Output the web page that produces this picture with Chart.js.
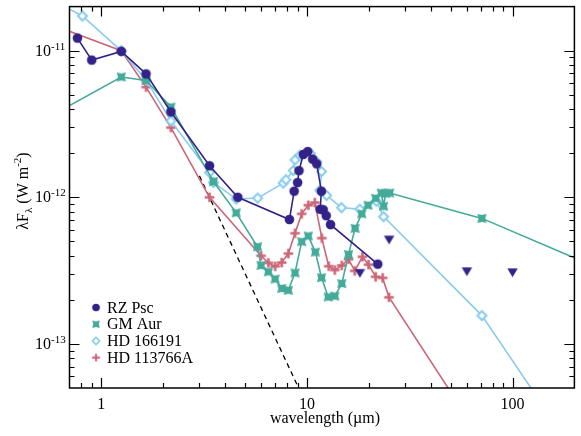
<!DOCTYPE html>
<html>
<head>
<meta charset="utf-8">
<script src="https://cdn.jsdelivr.net/npm/chart.js@4.4.0/dist/chart.umd.min.js"></script>
<style>
  html, body { margin: 0; padding: 0; background: #fff; }
</style>
</head>
<body>
<canvas id="sed" width="581" height="436"></canvas>
<script>
// wavelengths in micron, fluxes (lambda F_lambda) in W m^-2
const rzWave = [0.765, 0.898, 1.25, 1.65, 2.18, 3.36, 4.61, 8.22, 8.67, 9.01, 9.15, 9.6, 10.09, 10.66, 11.16, 11.76, 11.6, 12.0, 12.41, 13.03, 22.1];
const rzFlux = [1.22e-11, 8.63e-12, 9.9e-12, 6.95e-12, 3.82e-12, 1.64e-12, 1.0e-12, 7.05e-13, 1.1e-12, 1.26e-12, 1.52e-12, 1.96e-12, 2.05e-12, 1.82e-12, 1.69e-12, 1.1e-12, 8.29e-13, 8.22e-13, 7.49e-13, 6.51e-13, 3.5e-13];

// RZ Psc upper limits
const rzLimWave = [18.1, 25.1, 60, 100];
const rzLimFlux = [3.03e-13, 5.12e-13, 3.11e-13, 3.06e-13];

const gmWave = [0.55, 1.25, 1.65, 2.18, 3.51, 4.53, 5.75, 5.98, 6.49, 7.0, 7.54, 8.12, 8.75, 9.43, 10.15, 10.99, 11.78, 12.69, 13.67, 14.78, 15.93, 17.15, 18.48, 19.82, 21.6, 23.0, 23.6, 24.15, 25.25, 71, 250];
const gmFlux = [3.5e-12, 6.62e-12, 6.27e-12, 4.13e-12, 1.28e-12, 7.83e-13, 4.6e-13, 3.43e-13, 3.1e-13, 2.77e-13, 2.39e-13, 2.32e-13, 3.05e-13, 4.98e-13, 5.45e-13, 4.23e-13, 2.83e-13, 2.09e-13, 2.12e-13, 2.58e-13, 4.07e-13, 6.14e-13, 7.71e-13, 8.83e-13, 9.85e-13, 1.07e-12, 8.69e-13, 1.064e-12, 1.07e-12, 7.18e-13, 3.38e-13];

const hd166Wave = [0.55, 0.809, 1.25, 1.65, 2.18, 3.36, 3.51, 4.53, 5.76, 7.67, 7.91, 8.58, 8.75, 9.25, 10.4, 11.14, 11.78, 11.56, 12.46, 14.73, 18.07, 21.77, 23.6, 71, 250];
const hd166Flux = [2.3e-11, 1.726e-11, 9.97e-12, 6.32e-12, 3.32e-12, 1.476e-12, 1.264e-12, 9.73e-13, 9.88e-13, 1.25e-12, 1.318e-12, 1.524e-12, 1.8e-12, 1.94e-12, 1.99e-12, 1.75e-12, 1.5e-12, 1.115e-12, 1.03e-12, 8.49e-13, 8.3e-13, 9.4e-13, 7.38e-13, 1.56e-13, 1.15e-14];

const hd113Wave = [0.55, 1.25, 1.65, 2.18, 3.36, 5.98, 6.49, 7.0, 7.54, 8.12, 8.75, 9.43, 10.15, 10.93, 11.82, 12.76, 13.67, 14.78, 15.93, 17.09, 18.62, 19.93, 21.6, 23.35, 25.06, 60];
const hd113Flux = [1.54e-11, 1.0e-11, 5.65e-12, 2.99e-12, 1.0e-12, 3.99e-13, 3.57e-13, 3.38e-13, 3.59e-13, 4.13e-13, 5.69e-13, 7.71e-13, 8.83e-13, 9.21e-13, 5.27e-13, 3.39e-13, 3.19e-13, 3.43e-13, 3.78e-13, 3.15e-13, 3.93e-13, 3.47e-13, 2.87e-13, 2.82e-13, 2.08e-13, 3.18e-14];

// stellar photosphere (dashed)
const photWave = [3.0, 10];
const photFlux = [1.4e-12, 3.78e-14];

const xTickLabels = [1, 10, 100];
const yTickLabels = [1e-13, 1e-12, 1e-11];
const yTickExp = ['-13', '-12', '-11'];

const xMin = 0.7, xMax = 200;
const yMin = 5e-14, yMax = 2e-11;

const FONT = '"Liberation Serif", "Times New Roman", serif';

function pts(w, f) {
  return w.map((v, i) => ({ x: v, y: f[i] }));
}

// marker images
function marker(kind, color) {
  const c = document.createElement('canvas');
  c.width = 13; c.height = 13;
  const g = c.getContext('2d');
  g.translate(6.5, 6.5);
  g.fillStyle = color;
  g.strokeStyle = color;
  if (kind === 'circle') {
    g.beginPath(); g.arc(0, 0, 4.8, 0, Math.PI * 2); g.fill();
  } else if (kind === 'notch') {
    g.beginPath();
    g.moveTo(-4.6, -4.6); g.lineTo(0, -3.4); g.lineTo(4.6, -4.6); g.lineTo(3.4, 0);
    g.lineTo(4.6, 4.6); g.lineTo(0, 3.4); g.lineTo(-4.6, 4.6); g.lineTo(-3.4, 0);
    g.closePath(); g.fill();
  } else if (kind === 'diamond') {
    g.lineWidth = 2;
    g.beginPath(); g.moveTo(0, -4.5); g.lineTo(4.5, 0); g.lineTo(0, 4.5); g.lineTo(-4.5, 0); g.closePath();
    g.fillStyle = '#fff'; g.fill(); g.stroke();
  } else if (kind === 'plus') {
    g.lineWidth = 2.6;
    g.beginPath(); g.moveTo(-4.8, 0); g.lineTo(4.8, 0); g.moveTo(0, -4.8); g.lineTo(0, 4.8); g.stroke();
  } else if (kind === 'tri') {
    g.beginPath(); g.moveTo(-5.2, -4.2); g.lineTo(5.2, -4.2); g.lineTo(0, 4.6); g.closePath(); g.fill();
  }
  return c;
}

const navy = '#332288', teal = '#44aa99', cyan = '#88ccee', rose = '#cc6677';

function series(label, w, f, color, kind) {
  return {
    label: label,
    data: pts(w, f),
    showLine: true,
    borderColor: color,
    backgroundColor: color,
    borderWidth: 1.6,
    pointStyle: marker(kind, color),
    pointRadius: 5,
    pointHoverRadius: 5
  };
}

const datasets = [
  series('RZ Psc', rzWave, rzFlux, navy, 'circle'),
  {
    label: '', noLegend: true,
    data: pts(rzLimWave, rzLimFlux),
    showLine: false,
    pointStyle: marker('tri', navy),
    pointRadius: 5
  },
  series('GM Aur', gmWave, gmFlux, teal, 'notch'),
  series('HD 166191', hd166Wave, hd166Flux, cyan, 'diamond'),
  series('HD 113766A', hd113Wave, hd113Flux, rose, 'plus'),
  {
    label: '', noLegend: true,
    data: pts(photWave, photFlux),
    showLine: true,
    borderColor: '#000',
    borderWidth: 1.3,
    borderDash: [5, 4],
    pointRadius: 0
  }
];

// frame with inward ticks, labels and legend
const framePlugin = {
  id: 'frame',
  afterDraw(chart) {
    const ctx = chart.ctx;
    const a = chart.chartArea;
    const xs = chart.scales.x, ys = chart.scales.y;
    ctx.save();
    ctx.strokeStyle = '#000';
    ctx.lineWidth = 1.2;
    ctx.beginPath();
    for (let d = -1; d <= 2; d++) {
      for (let m = 1; m <= 9; m++) {
        const v = m * Math.pow(10, d);
        if (v <= xMin * 1.001 || v >= xMax * 0.999) continue;
        const px = Math.round(xs.getPixelForValue(v)) + 0.5;
        const len = m === 1 ? 10 : 5;
        ctx.moveTo(px, a.bottom); ctx.lineTo(px, a.bottom - len);
        ctx.moveTo(px, a.top); ctx.lineTo(px, a.top + len);
      }
    }
    for (let d = -14; d <= -11; d++) {
      for (let m = 1; m <= 9; m++) {
        const v = m * Math.pow(10, d);
        if (v <= yMin * 1.001 || v >= yMax * 0.999) continue;
        const py = Math.round(ys.getPixelForValue(v)) + 0.5;
        const len = m === 1 ? 10 : 5;
        ctx.moveTo(a.left, py); ctx.lineTo(a.left + len, py);
        ctx.moveTo(a.right, py); ctx.lineTo(a.right - len, py);
      }
    }
    ctx.stroke();
    ctx.lineWidth = 1.5;
    ctx.strokeRect(a.left, a.top, a.right - a.left, a.bottom - a.top);

    ctx.fillStyle = '#000';
    // x tick labels
    ctx.font = '16px ' + FONT;
    ctx.textAlign = 'center';
    ctx.textBaseline = 'alphabetic';
    xTickLabels.forEach(v => {
      ctx.fillText(String(v), xs.getPixelForValue(v), 409);
    });
    // y tick labels 10^n
    ctx.textAlign = 'left';
    yTickLabels.forEach((v, i) => {
      const py = ys.getPixelForValue(v);
      ctx.font = '16px ' + FONT;
      ctx.fillText('10', 35, py + 5);
      const w = ctx.measureText('10').width;
      ctx.font = '11px ' + FONT;
      ctx.fillText(yTickExp[i], 35 + w, py - 1);
    });
    // x title
    ctx.font = '16px ' + FONT;
    ctx.textAlign = 'center';
    ctx.fillText('wavelength (\u00b5m)', (a.left + a.right) / 2 + 3, 423);

    // y title: lambda F_lambda (W m^-2)
    const parts = [
      { t: '\u03bbF', size: 16, dy: 0 },
      { t: '\u03bb', size: 11, dy: 4 },
      { t: ' (W m', size: 16, dy: 0 },
      { t: '-2', size: 11, dy: -7 },
      { t: ')', size: 16, dy: 0 }
    ];
    let total = 0;
    parts.forEach(p => { ctx.font = p.size + 'px ' + FONT; p.w = ctx.measureText(p.t).width; total += p.w; });
    ctx.save();
    ctx.translate(28, 191);
    ctx.rotate(-Math.PI / 2);
    ctx.textAlign = 'left';
    let cx = -total / 2;
    parts.forEach(p => {
      ctx.font = p.size + 'px ' + FONT;
      ctx.fillText(p.t, cx, p.dy);
      cx += p.w;
    });
    ctx.restore();

    // legend
    let ly = 307.5;
    chart.data.datasets.forEach(ds => {
      if (ds.noLegend) return;
      const img = ds.pointStyle;
      const s = 10.5;
      ctx.drawImage(img, 96 - s / 2, ly - s / 2, s, s);
      ctx.font = '16px ' + FONT;
      ctx.textAlign = 'left';
      ctx.textBaseline = 'middle';
      ctx.fillText(ds.label, 107, ly + 1);
      ly += 16.7;
    });
    ctx.restore();
  }
};

new Chart(document.getElementById('sed'), {
  type: 'scatter',
  data: { datasets: datasets },
  options: {
    responsive: false,
    animation: false,
    devicePixelRatio: 1,
    layout: { padding: { left: 69.5, right: 6, top: 4, bottom: 48 } },
    plugins: { legend: { display: false }, tooltip: { enabled: false } },
    scales: {
      x: { type: 'logarithmic', min: xMin, max: xMax, display: false },
      y: { type: 'logarithmic', min: yMin, max: yMax, display: false }
    }
  },
  plugins: [framePlugin]
});
</script>
</body>
</html>
